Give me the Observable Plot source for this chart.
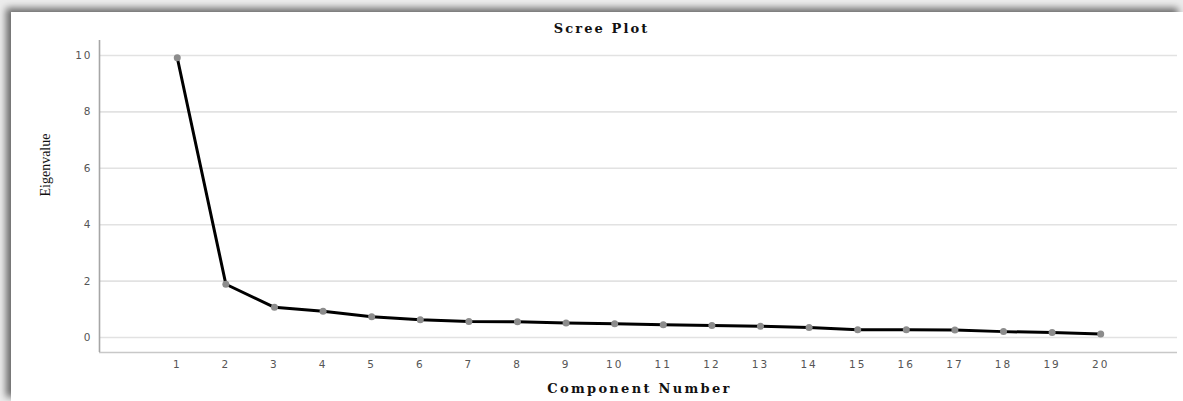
<!DOCTYPE html>
<html>
<head>
<meta charset="utf-8">
<script src="https://cdn.jsdelivr.net/npm/d3@7"></script>
<script src="https://cdn.jsdelivr.net/npm/@observablehq/plot@0.6"></script>
<style>
  html, body { margin: 0; padding: 0; width: 1183px; height: 401px; overflow: hidden; background: #ececec; }
  #frame { position: absolute; left: 11px; top: 12px; width: 1172px; height: 389px; background: #fff;
           box-shadow: -5px -4px 7px rgba(0,0,0,0.55); }
  #chart { position: absolute; left: 0; top: 0; }
  #chart svg { background: transparent; }
</style>
</head>
<body>
<div id="frame"></div>
<div id="chart"></div>
<script>
const components = [1,2,3,4,5,6,7,8,9,10,11,12,13,14,15,16,17,18,19,20];
const eigenvalues = [9.92,1.89,1.07,0.93,0.74,0.63,0.57,0.56,0.52,0.49,0.45,0.43,0.40,0.36,0.28,0.28,0.27,0.21,0.18,0.13];
const yTicks = [0,2,4,6,8,10];
const xTicks = components;

const data = components.map((c, i) => ({component: c, eigenvalue: eigenvalues[i]}));
const xDomain = [-0.6, 21.58];
const yDomain = [-0.53, 10.53];

const chart = Plot.plot({
  width: 1183,
  height: 401,
  marginLeft: 99,
  marginRight: 6,
  marginTop: 40,
  marginBottom: 49,
  style: {background: "transparent", overflow: "visible"},
  x: {domain: xDomain, ticks: xTicks, tickSize: 0, tickPadding: 8, label: null, tickFormat: d => String(d)},
  y: {domain: yDomain, ticks: yTicks, tickSize: 0, tickPadding: 9, label: null, tickFormat: d => String(d)},
  marks: [
    Plot.ruleY(yTicks, {stroke: "#e2e2e2", strokeWidth: 1.6}),
    Plot.ruleY([yDomain[0]], {stroke: "#c8c8c8", strokeWidth: 1.6}),
    Plot.ruleX([xDomain[0]], {stroke: "#a6a6a6", strokeWidth: 1.6}),
    Plot.axisX({ticks: xTicks, tickSize: 0, tickPadding: 8, label: null, tickFormat: d => String(d),
      fontSize: 10.5, fill: "#555", fontFamily: "DejaVu Sans"}),
    Plot.axisY({ticks: yTicks, tickSize: 0, tickPadding: 7, label: null, tickFormat: d => String(d),
      fontSize: 10.5, fill: "#555", fontFamily: "DejaVu Sans"}),
    Plot.line(data, {x: "component", y: "eigenvalue", stroke: "#000", strokeWidth: 3}),
    Plot.dot(data, {x: "component", y: "eigenvalue", r: 3.5, fill: "#8c8c8c", stroke: "none"}),
    Plot.text(["Scree Plot"], {frameAnchor: "top", dy: -17, dx: -37, fontSize: 13, fontWeight: "bold",
      fontFamily: "DejaVu Serif", fill: "#111"}),
    Plot.text(["Component Number"], {frameAnchor: "bottom", dy: 40, dx: 1, fontSize: 13, fontWeight: "bold",
      fontFamily: "DejaVu Serif", fill: "#111"}),
    Plot.text(["Eigenvalue"], {frameAnchor: "left", dx: -54, rotate: -90, fontSize: 14,
      fontFamily: "Liberation Serif", fill: "#111"})
  ]
});
// widen the letter spacing of the texts to match the stretched look of the original
d3.select(chart).selectAll("text").each(function() {
  const t = this.textContent;
  if (t === "Scree Plot") this.setAttribute("letter-spacing", "2.1px");
  else if (t === "Component Number") this.setAttribute("letter-spacing", "2.3px");
  else if (/^\d+$/.test(t)) this.setAttribute("letter-spacing", "2px");
});
document.getElementById("chart").appendChild(chart);
</script>
</body>
</html>
